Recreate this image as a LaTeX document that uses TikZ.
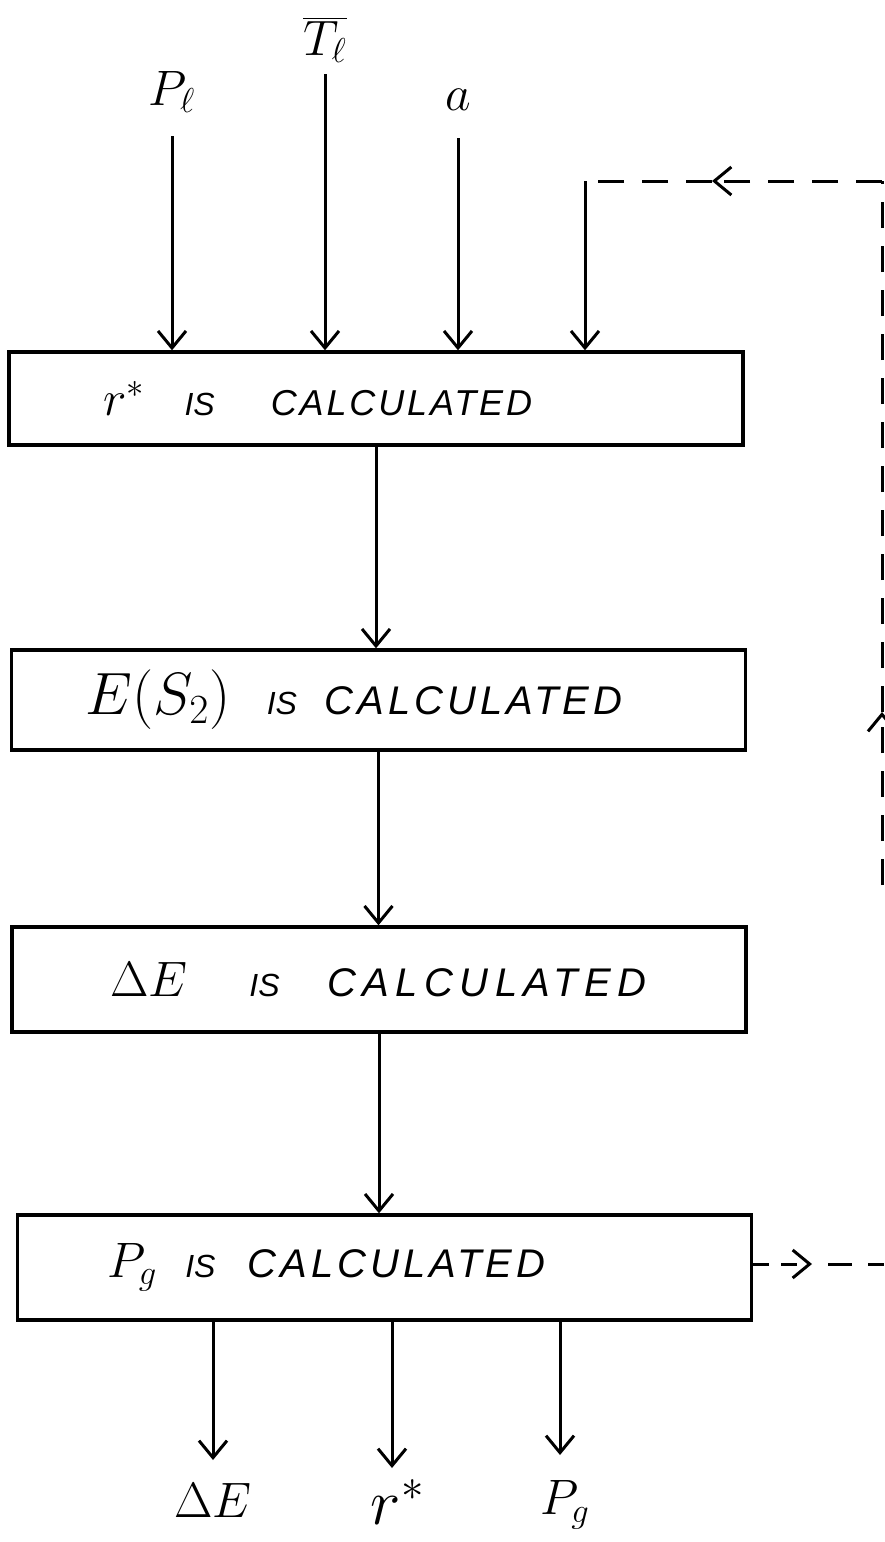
\documentclass[tikz,border=0pt]{standalone}
\usepackage{graphicx}
\usepackage{fontspec}
\setmainfont{Liberation Sans}
\usetikzlibrary{arrows.meta}
\newcommand\calcw[2]{{\fontsize{#1}{#1}\selectfont\itshape\addfontfeatures{LetterSpace=#2}CALCULATED}}
\newcommand\isw{{\fontsize{16}{16}\selectfont\itshape IS}}
\newcommand\mth[2]{{\fontsize{#1}{#1}\selectfont$#2$}}
\newcommand\mths[3]{\scalebox{#1}{\fontsize{#2}{#2}\selectfont$#3$}}
\begin{document}
\begin{tikzpicture}[x=0.5pt,y=-0.5pt,
  line width=1.5pt,
  box/.style={draw,line width=1.7pt,inner xsep=45pt,text width=277pt,align=left,anchor=center},
  arr/.style={-{Straight Barb[length=8.5pt,width=14pt]}},
  fb/.style={dash pattern=on 13pt off 9pt},
  lbl/.style={inner sep=1pt}
]
\useasboundingbox (0,0) rectangle (884,1542);

% boxes
\node[box,minimum height=46.5pt] (b1) at (376,398.5)
  {\hspace*{2pt}\mth{24}{r^*}\hspace{20pt}\isw\hspace{28pt}\calcw{18}{8}};
\node[box,minimum height=50pt] (b2) at (378.5,700)
  {\hspace*{-8pt}\mths{1.2}{24}{E(S_2)}\hspace{18pt}\isw\hspace{14pt}\calcw{20}{10}};
\node[box,minimum height=52.5pt] (b3) at (379,979.5)
  {\hspace*{4pt}\mth{24}{\Delta E}\hspace{31pt}\isw\hspace{24pt}\calcw{20}{16}};
\node[box,minimum height=52.5pt] (b4) at (384.5,1267.5)
  {\mth{24}{P_g}\hspace{14pt}\isw\hspace{16pt}\calcw{20}{10}};

% input labels
\node[lbl] (pl) at (172,92) {\mth{24}{P_\ell}};
\node[lbl] (tl) at (325,40) {\mth{24}{\overline{T_\ell}}};
\node[lbl] (al) at (458,100) {\mth{24}{a}};

\draw[arr,shorten <=10pt] (pl.south) -- (pl.south |- b1.north);
\draw[arr,shorten <=4pt] (tl.south) -- (tl.south |- b1.north);
\draw[arr,shorten <=12pt] (al.south) -- (al.south |- b1.north);

% feedback loop
\coordinate (fbc) at (585,181);
\coordinate (fbm) at (712,181);
\coordinate (fbr) at (882,181);
\coordinate (vm) at (882,712);
\coordinate (vbot) at (882,885);
\draw[arr] (fbc) -- (fbc |- b1.north);
\draw[fb,arr] (fbr) -- (fbm);
\draw[fb] (fbm) -- (fbc);
\draw[fb,arr] (vbot) -- (vm);
\draw[fb] (vm) -- (fbr);

\coordinate (bm) at (812,1264);
\coordinate (bre) at (884,1264);
\draw[dash pattern=on 8pt off 6pt,arr] (b4.east |- bm) -- (bm);
\draw[dash pattern=on 12pt off 8pt] ([xshift=8pt]bm) -- (bre);

% between boxes
\draw[arr] (b1.south) -- (b1.south |- b2.north);
\draw[arr] (b2.south) -- (b2.south |- b3.north);
\draw[arr] (b3.south) -- (b3.south |- b4.north);

% outputs
\coordinate (o1) at (213,1460);
\coordinate (o2) at (392,1468);
\coordinate (o3) at (560,1455);
\draw[arr] (o1 |- b4.south) -- (o1);
\draw[arr] (o2 |- b4.south) -- (o2);
\draw[arr] (o3 |- b4.south) -- (o3);
\node[lbl] (odE) at (213,1500) {\mth{24}{\Delta E}};
\node[lbl] (ors) at (398,1502) {\mths{1.3}{24}{r^*}};
\node[lbl] (opg) at (565,1505) {\mth{24}{P_g}};
\end{tikzpicture}
\end{document}
